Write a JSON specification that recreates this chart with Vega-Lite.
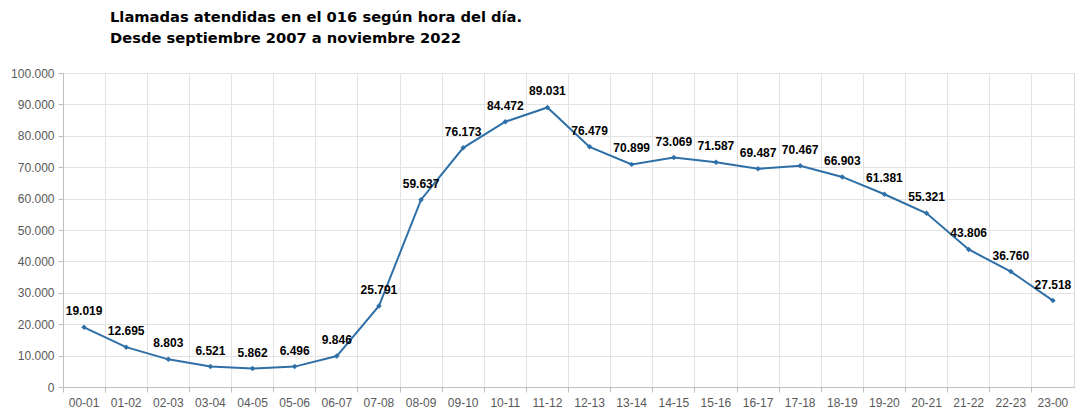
{
  "$schema": "https://vega.github.io/schema/vega-lite/v6.json",
  "width": 1011,
  "height": 314,
  "autosize": {"type": "none"},
  "padding": {"left": 63, "top": 73, "right": 6, "bottom": 27},
  "background": "white",
  "title": {
    "text": ["Llamadas atendidas en el 016 según hora del día.", "Desde septiembre 2007 a noviembre 2022"],
    "anchor": "start",
    "frame": "group",
    "dx": 47,
    "offset": 21,
    "baseline": "top",
    "font": "DejaVu Sans",
    "fontSize": 14.7,
    "fontWeight": "bold",
    "color": "#000000",
    "lineHeight": 21
  },
  "config": {
    "locale": {"number": {"decimal": ",", "thousands": ".", "grouping": [3], "currency": ["", " €"]}},
    "view": {"stroke": "#D9D9D9"},
    "font": "Liberation Sans"
  },
  "data": {
    "values": [
      {"hora": "00-01", "llamadas": 19019},
      {"hora": "01-02", "llamadas": 12695},
      {"hora": "02-03", "llamadas": 8803},
      {"hora": "03-04", "llamadas": 6521},
      {"hora": "04-05", "llamadas": 5862},
      {"hora": "05-06", "llamadas": 6496},
      {"hora": "06-07", "llamadas": 9846},
      {"hora": "07-08", "llamadas": 25791},
      {"hora": "08-09", "llamadas": 59637},
      {"hora": "09-10", "llamadas": 76173},
      {"hora": "10-11", "llamadas": 84472},
      {"hora": "11-12", "llamadas": 89031},
      {"hora": "12-13", "llamadas": 76479},
      {"hora": "13-14", "llamadas": 70899},
      {"hora": "14-15", "llamadas": 73069},
      {"hora": "15-16", "llamadas": 71587},
      {"hora": "16-17", "llamadas": 69487},
      {"hora": "17-18", "llamadas": 70467},
      {"hora": "18-19", "llamadas": 66903},
      {"hora": "19-20", "llamadas": 61381},
      {"hora": "20-21", "llamadas": 55321},
      {"hora": "21-22", "llamadas": 43806},
      {"hora": "22-23", "llamadas": 36760},
      {"hora": "23-00", "llamadas": 27518}
    ]
  },
  "encoding": {
    "x": {
      "field": "hora",
      "type": "ordinal",
      "sort": null,
      "scale": {"type": "band", "paddingInner": 0, "paddingOuter": 0},
      "axis": {
        "title": null,
        "labelAngle": 0,
        "bandPosition": 0,
        "grid": true,
        "gridColor": "#E3E3E3",
        "domainColor": "#BFBFBF",
        "tickColor": "#BFBFBF",
        "tickSize": 5,
        "labelColor": "#595959",
        "labelFontSize": 12,
        "labelPadding": 5
      }
    },
    "y": {
      "field": "llamadas",
      "type": "quantitative",
      "scale": {"domain": [0, 100000], "nice": false},
      "axis": {
        "title": null,
        "values": [0, 10000, 20000, 30000, 40000, 50000, 60000, 70000, 80000, 90000, 100000],
        "format": ",d",
        "grid": true,
        "gridColor": "#E3E3E3",
        "domainColor": "#BFBFBF",
        "tickColor": "#BFBFBF",
        "tickSize": 5,
        "labelColor": "#595959",
        "labelFontSize": 12,
        "labelPadding": 4
      }
    }
  },
  "layer": [
    {
      "mark": {"type": "line", "color": "#2E6FA7", "strokeWidth": 2}
    },
    {
      "mark": {"type": "point", "shape": "diamond", "filled": true, "size": 30, "color": "#2E6FA7", "opacity": 1}
    },
    {
      "mark": {"type": "text", "fontWeight": "bold", "fontSize": 12, "color": "#000000", "baseline": "middle", "dy": -16},
      "encoding": {
        "text": {"field": "llamadas", "type": "quantitative", "format": ",d"}
      }
    },
    {
      "data": {"values": [{"etiqueta": "Total: 1.128.023"}]},
      "mark": {"type": "text", "fontWeight": "bold", "fontSize": 15.5, "color": "#000000", "align": "left", "baseline": "middle", "dx": -6},
      "encoding": {
        "x": {"datum": "15-16"},
        "y": {"datum": 117800},
        "text": {"field": "etiqueta", "type": "nominal"}
      }
    }
  ]
}
